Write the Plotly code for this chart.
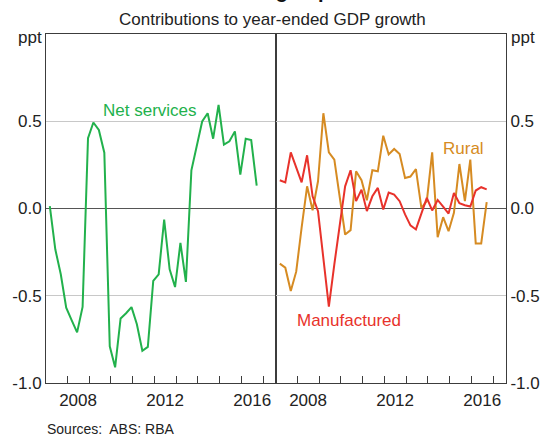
import pandas as pd
import plotly.graph_objects as go

# Quarterly observations, March quarter 2007 to September quarter 2016
quarters = pd.date_range("2007-03-15", periods=39, freq=pd.DateOffset(months=3))

net_services = [0.013, -0.234, -0.377, -0.568, -0.64, -0.71, -0.564, 0.403, 0.493, 0.45,
                0.32, -0.79, -0.91, -0.63, -0.60, -0.565, -0.663, -0.815, -0.793, -0.415,
                -0.377, -0.063, -0.349, -0.45, -0.197, -0.421, 0.219, 0.356, 0.499, 0.546,
                0.40, 0.594, 0.366, 0.385, 0.442, 0.194, 0.40, 0.392, 0.131]

manufactured = [0.162, 0.150, 0.322, 0.238, 0.150, 0.305, 0.070, -0.015, -0.29, -0.562,
                -0.32, -0.08, 0.127, 0.219, 0.042, 0.108, -0.015, 0.070, 0.118, -0.006,
                0.091, 0.080, 0.042, -0.034, -0.097, -0.12, -0.031, 0.061, -0.011, 0.049,
                0.011, -0.029, 0.089, 0.030, 0.019, 0.011, 0.103, 0.122, 0.110]

rural = [-0.316, -0.339, -0.473, -0.362, -0.11, 0.127, -0.01, 0.156, 0.546, 0.322,
         0.28, 0.074, -0.149, -0.124, 0.213, 0.162, 0.047, 0.219, 0.213, 0.417,
         0.31, 0.341, 0.312, 0.175, 0.183, 0.226, 0.003, 0.042, 0.322, -0.164,
         -0.05, -0.13, -0.025, 0.255, 0.042, 0.28, -0.2, -0.2, 0.036]

year_label_pos = ["2008-07-01", "2012-07-01", "2016-07-01"]
year_labels = ["2008", "2012", "2016"]
y_ticks = [-1.0, -0.5, 0.0, 0.5]
y_tick_labels = ["-1.0", "-0.5", "0.0", "0.5"]

GREEN = "#22b14c"
RED = "#e8322b"
ORANGE = "#d68b22"
FONT = "Liberation Sans, Arial, sans-serif"
AXIS = "#3c3c3c"
GRID = "#c8c8c8"

fig = go.Figure()
fig.add_trace(go.Scatter(x=quarters, y=net_services, mode="lines", xaxis="x", yaxis="y",
                         line=dict(color=GREEN, width=2), showlegend=False))
fig.add_trace(go.Scatter(x=quarters, y=rural, mode="lines", xaxis="x2", yaxis="y2",
                         line=dict(color=ORANGE, width=2), showlegend=False))
fig.add_trace(go.Scatter(x=quarters, y=manufactured, mode="lines", xaxis="x2", yaxis="y2",
                         line=dict(color=RED, width=2), showlegend=False))

xcommon = dict(type="date", range=["2007-01-10", "2017-08-05"], tickmode="array",
               tickvals=year_label_pos, ticktext=year_labels, ticks="", showgrid=False,
               showline=True, mirror=True, linecolor=AXIS, linewidth=1, zeroline=False,
               ticklabelstandoff=2,
               tickfont=dict(size=17, color="#222"),
               minor=dict(ticks="inside", ticklen=7, tick0="2007-01-01", dtick="M12",
                          tickcolor=AXIS, tickwidth=1, showgrid=False))
ycommon = dict(range=[-1, 1], tickmode="array", tickvals=y_ticks, ticktext=y_tick_labels,
               ticks="", showgrid=True, gridcolor=GRID, gridwidth=1,
               zeroline=True, zerolinecolor="#555", zerolinewidth=1.2,
               showline=True, mirror=True, linecolor=AXIS, linewidth=1,
               tickfont=dict(size=17, color="#222"))

fig.update_layout(
    width=552, height=434,
    margin=dict(l=42, r=35, t=34, b=51),
    paper_bgcolor="white", plot_bgcolor="white",
    font=dict(family=FONT, color="#222"),
    xaxis=dict(domain=[0, 0.5], anchor="y", **xcommon),
    xaxis2=dict(domain=[0.5, 1], anchor="y2", **xcommon),
    yaxis=dict(domain=[0, 1], anchor="x", side="left", **ycommon),
    yaxis2=dict(domain=[0, 1], anchor="x2", side="right", **ycommon),
)

annotations = [
    dict(text="<b>Non-mining Exports</b>", xref="paper", yref="paper", x=0.493, y=1.0865,
         xanchor="center", yanchor="bottom", showarrow=False, font=dict(size=20, color="#111")),
    dict(text="Contributions to year-ended GDP growth", xref="paper", yref="paper",
         x=0.493, y=1.0413, xanchor="center", yanchor="middle", showarrow=False,
         font=dict(size=17, color="#222")),
    dict(text="ppt", xref="paper", yref="paper", x=-0.005, y=0.989, xanchor="right",
         yanchor="middle", showarrow=False, font=dict(size=17, color="#222")),
    dict(text="ppt", xref="paper", yref="paper", x=1.006, y=0.989, xanchor="left",
         yanchor="middle", showarrow=False, font=dict(size=17, color="#222")),
    dict(text="Net services", xref="x", yref="y", x="2011-10-25", y=0.563,
         xanchor="center", yanchor="middle", showarrow=False, font=dict(size=17, color=GREEN)),
    dict(text="Rural", xref="x2", yref="y2", x="2015-08-20", y=0.346,
         xanchor="center", yanchor="middle", showarrow=False, font=dict(size=17, color=ORANGE)),
    dict(text="Manufactured", xref="x2", yref="y2", x="2010-05-18", y=-0.641,
         xanchor="center", yanchor="middle", showarrow=False, font=dict(size=17, color=RED)),
    dict(text="Sources:\u00a0 ABS; RBA", xref="paper", yref="paper", x=-0.002, y=-0.1307,
         xanchor="left", yanchor="middle", showarrow=False, font=dict(size=14, color="#222")),
]
fig.update_layout(annotations=annotations)

fig.write_html("out.html", config={"displayModeBar": False},
               post_script="document.body.style.margin='0px';document.body.style.padding='0px';")
